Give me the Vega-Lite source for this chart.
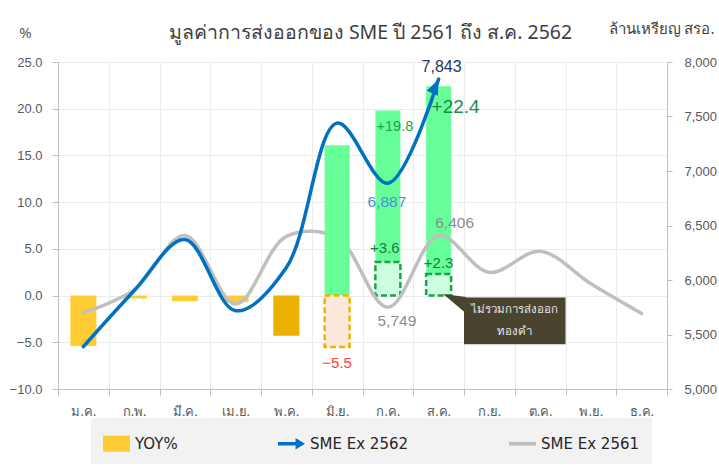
{
  "$schema": "https://vega.github.io/schema/vega-lite/v6.json",
  "width": 609,
  "height": 327,
  "autosize": {"type": "none"},
  "padding": {"left": 58, "top": 62, "right": 52, "bottom": 76},
  "background": "white",
  "config": {
    "view": {"stroke": null},
    "font": "Liberation Sans",
    "axis": {"labelFont": "Liberation Sans", "titleFont": "Tahoma, Noto Sans, DejaVu Sans, sans-serif"}
  },
  "title": {
    "text": "มูลค่าการส่งออกของ SME ปี 2561 ถึง ส.ค. 2562",
    "font": "Tahoma, Noto Sans, DejaVu Sans, sans-serif",
    "fontSize": 19.5,
    "fontWeight": "normal",
    "color": "#404040",
    "anchor": "middle",
    "dx": 8,
    "dy": 38,
    "offset": 16
  },
  "datasets": {
    "yoy": [
      {"month": "ม.ค.", "yoy": -5.4, "series": "YOY%"},
      {"month": "ก.พ.", "yoy": -0.3, "series": "YOY%"},
      {"month": "มี.ค.", "yoy": -0.6, "series": "YOY%"},
      {"month": "เม.ย.", "yoy": -0.7, "series": "YOY%"},
      {"month": "พ.ค.", "yoy": -4.3, "series": "YOY%"},
      {"month": "มิ.ย.", "yoy": 16.1, "series": "YOY%"},
      {"month": "ก.ค.", "yoy": 19.8, "series": "YOY%"},
      {"month": "ส.ค.", "yoy": 22.4, "series": "YOY%"}
    ],
    "nogold": [
      {"month": "มิ.ย.", "yoy": -5.5},
      {"month": "ก.ค.", "yoy": 3.6},
      {"month": "ส.ค.", "yoy": 2.3}
    ],
    "export": [
      {"month": "ม.ค.", "value": 5389, "series": "SME Ex 2562"},
      {"month": "ก.พ.", "value": 5902, "series": "SME Ex 2562"},
      {"month": "มี.ค.", "value": 6371, "series": "SME Ex 2562"},
      {"month": "เม.ย.", "value": 5718, "series": "SME Ex 2562"},
      {"month": "พ.ค.", "value": 6114, "series": "SME Ex 2562"},
      {"month": "มิ.ย.", "value": 7439, "series": "SME Ex 2562"},
      {"month": "ก.ค.", "value": 6887, "series": "SME Ex 2562"},
      {"month": "ส.ค.", "value": 7843, "series": "SME Ex 2562"},
      {"month": "ม.ค.", "value": 5700, "series": "SME Ex 2561"},
      {"month": "ก.พ.", "value": 5910, "series": "SME Ex 2561"},
      {"month": "มี.ค.", "value": 6408, "series": "SME Ex 2561"},
      {"month": "เม.ย.", "value": 5780, "series": "SME Ex 2561"},
      {"month": "พ.ค.", "value": 6400, "series": "SME Ex 2561"},
      {"month": "มิ.ย.", "value": 6390, "series": "SME Ex 2561"},
      {"month": "ก.ค.", "value": 5749, "series": "SME Ex 2561"},
      {"month": "ส.ค.", "value": 6406, "series": "SME Ex 2561"},
      {"month": "ก.ย.", "value": 6070, "series": "SME Ex 2561"},
      {"month": "ต.ค.", "value": 6264, "series": "SME Ex 2561"},
      {"month": "พ.ย.", "value": 5966, "series": "SME Ex 2561"},
      {"month": "ธ.ค.", "value": 5693, "series": "SME Ex 2561"}
    ],
    "note": [
      {"month": "ก.ย.", "month2": "พ.ย.", "yoy": -0.2, "yoy2": -5.2, "text": ["ไม่รวมการส่งออก", "ทองคำ"]}
    ]
  },
  "layer": [
    {
      "data": {"name": "yoy"},
      "transform": [{"filter": {"field": "month", "oneOf": ["ม.ค.", "ก.พ.", "มี.ค.", "เม.ย."]}}],
      "mark": {"type": "bar", "width": 26},
      "encoding": {
        "x": {
          "field": "month", "type": "ordinal", "title": null,
          "scale": {"domain": ["ม.ค.", "ก.พ.", "มี.ค.", "เม.ย.", "พ.ค.", "มิ.ย.", "ก.ค.", "ส.ค.", "ก.ย.", "ต.ค.", "พ.ย.", "ธ.ค."], "paddingInner": 0, "paddingOuter": 0},
          "axis": {"orient": "bottom", "tickBand": "extent", "grid": true, "gridColor": "#EBEBEB", "ticks": true, "tickSize": 6, "tickColor": "#BFBFBF", "domainColor": "#BFBFBF", "labelPadding": 10, "labelFontSize": 13, "labelColor": "#595959", "labelAngle": 0, "labelFont": "Tahoma, Noto Sans, DejaVu Sans, sans-serif"}
        },
        "y": {
          "field": "yoy", "type": "quantitative",
          "scale": {"domain": [-10, 25], "nice": false, "zero": true},
          "axis": {"orient": "left", "values": [-10, -5, 0, 5, 10, 15, 20, 25], "format": ".1f", "labelFontSize": 13, "labelColor": "#595959", "labelPadding": 10, "tickSize": 6, "tickColor": "#BFBFBF", "domainColor": "#BFBFBF", "grid": true, "gridColor": "#EBEBEB", "title": "%", "titleAngle": 0, "titleX": -33, "titleY": -30, "titleAlign": "center", "titleBaseline": "middle", "titleFontSize": 15, "titleFontWeight": "normal", "titleColor": "#595959"}
        },
        "y2": {"datum": 0},
        "color": {
          "field": "series", "type": "nominal",
          "scale": {"domain": ["YOY%", "SME Ex 2562", "SME Ex 2561"], "range": ["#FFCC33", "#0070C0", "#BFBFBF"]},
          "legend": {
            "orient": "none", "legendX": 33, "legendY": 356, "direction": "horizontal", "title": null,
            "columnPadding": 100, "padding": 12, "fillColor": "#F2F2F2",
            "labelFontSize": 15, "labelColor": "#262626", "labelFont": "DejaVu Sans", "labelOffset": 5,
            "symbolSize": 729,
            "encode": {
              "symbols": {
                "update": {
                  "shape": {"signal": "datum.value === 'YOY%' ? 'M-1,-0.6H1V0.6H-1Z' : datum.value === 'SME Ex 2562' ? 'M-1,-0.13H0.3V-0.42L1,0L0.3,0.42V0.13H-1Z' : 'M-1,-0.14H1V0.14H-1Z'"},
                  "fill": {"signal": "scale('color', datum.value)"},
                  "stroke": {"value": "transparent"},
                  "strokeWidth": {"value": 0},
                  "opacity": {"value": 1},
                  "fillOpacity": {"value": 1}
                }
              }
            }
          }
        }
      }
    },
    {
      "data": {"name": "yoy"},
      "transform": [{"filter": {"field": "month", "equal": "พ.ค."}}],
      "mark": {"type": "bar", "width": 26, "color": "#EBB000"},
      "encoding": {
        "x": {"field": "month", "type": "ordinal", "title": null},
        "y": {"field": "yoy", "type": "quantitative", "scale": {"domain": [-10, 25], "nice": false, "zero": true}, "axis": null},
        "y2": {"datum": 0}
      }
    },
    {
      "data": {"name": "yoy"},
      "transform": [{"filter": {"field": "month", "oneOf": ["ก.ค.", "ส.ค."]}}],
      "mark": {"type": "bar", "width": 25, "color": "#66FF99"},
      "encoding": {
        "x": {"field": "month", "type": "ordinal", "title": null},
        "y": {"field": "yoy", "type": "quantitative", "scale": {"domain": [-10, 25], "nice": false, "zero": true}, "axis": null},
        "y2": {"datum": 0}
      }
    },
    {
      "data": {"name": "nogold"},
      "transform": [{"filter": {"field": "month", "oneOf": ["ก.ค.", "ส.ค."]}}],
      "mark": {"type": "bar", "width": 25, "fill": "#CCFFE0", "stroke": "#1AA34A", "strokeWidth": 2.5, "strokeDash": [6, 3]},
      "encoding": {
        "x": {"field": "month", "type": "ordinal", "title": null},
        "y": {"field": "yoy", "type": "quantitative", "scale": {"domain": [-10, 25], "nice": false, "zero": true}, "axis": null},
        "y2": {"datum": 0}
      }
    },
    {
      "data": {"name": "export"},
      "transform": [{"filter": {"field": "series", "equal": "SME Ex 2561"}}],
      "mark": {"type": "line", "interpolate": "catmull-rom", "strokeWidth": 3.5, "strokeCap": "round"},
      "encoding": {
        "x": {"field": "month", "type": "ordinal", "title": null},
        "y": {
          "field": "value", "type": "quantitative",
          "scale": {"domain": [5000, 8000], "nice": false, "zero": false},
          "axis": {"orient": "right", "values": [5000, 5500, 6000, 6500, 7000, 7500, 8000], "format": ",.0f", "labelFontSize": 13, "labelColor": "#595959", "labelPadding": 12, "tickSize": 5, "tickColor": "#BFBFBF", "domainColor": "#BFBFBF", "grid": false, "title": "ล้านเหรียญ สรอ.", "titleAngle": 0, "titleX": -59, "titleY": -34, "titleAlign": "left", "titleBaseline": "middle", "titleFontSize": 15, "titleFontWeight": "normal", "titleColor": "#404040"}
        },
        "color": {"field": "series", "type": "nominal", "scale": {"domain": ["YOY%", "SME Ex 2562", "SME Ex 2561"], "range": ["#FFCC33", "#0070C0", "#BFBFBF"]}}
      }
    },
    {
      "data": {"name": "yoy"},
      "transform": [{"filter": {"field": "month", "equal": "มิ.ย."}}],
      "mark": {"type": "bar", "width": 25, "color": "#66FF99"},
      "encoding": {
        "x": {"field": "month", "type": "ordinal", "title": null},
        "y": {"field": "yoy", "type": "quantitative", "scale": {"domain": [-10, 25], "nice": false, "zero": true}, "axis": null},
        "y2": {"datum": 0}
      }
    },
    {
      "data": {"name": "nogold"},
      "transform": [{"filter": {"field": "month", "equal": "มิ.ย."}}],
      "mark": {"type": "bar", "width": 25, "fill": "#FCE9DC", "stroke": "#F2B300", "strokeWidth": 2.5, "strokeDash": [6, 3]},
      "encoding": {
        "x": {"field": "month", "type": "ordinal", "title": null},
        "y": {"field": "yoy", "type": "quantitative", "scale": {"domain": [-10, 25], "nice": false, "zero": true}, "axis": null},
        "y2": {"datum": 0}
      }
    },
    {
      "data": {"name": "export"},
      "transform": [{"filter": {"field": "series", "equal": "SME Ex 2562"}}],
      "mark": {"type": "line", "interpolate": "catmull-rom", "strokeWidth": 3.5, "strokeCap": "round"},
      "encoding": {
        "x": {"field": "month", "type": "ordinal", "title": null},
        "y": {"field": "value", "type": "quantitative", "scale": {"domain": [5000, 8000], "nice": false, "zero": false}, "axis": null},
        "color": {"field": "series", "type": "nominal", "scale": {"domain": ["YOY%", "SME Ex 2562", "SME Ex 2561"], "range": ["#FFCC33", "#0070C0", "#BFBFBF"]}}
      }
    },
    {
      "data": {"name": "export"},
      "transform": [{"filter": "datum.series === 'SME Ex 2562' && datum.month === 'ส.ค.'"}],
      "mark": {"type": "point", "shape": "M0,0L0.55,1.4L-0.55,1.4Z", "size": 484, "angle": 24, "filled": true, "color": "#0070C0", "opacity": 1},
      "encoding": {
        "x": {"field": "month", "type": "ordinal", "title": null},
        "y": {"field": "value", "type": "quantitative", "scale": {"domain": [5000, 8000], "nice": false, "zero": false}, "axis": null}
      }
    },
    {
      "data": {"name": "note"},
      "mark": {"type": "rect", "color": "#4A4330"},
      "encoding": {
        "x": {"field": "month", "type": "ordinal", "title": null, "bandPosition": 0},
        "x2": {"field": "month2", "bandPosition": 0},
        "y": {"field": "yoy", "type": "quantitative", "scale": {"domain": [-10, 25], "nice": false, "zero": true}, "axis": null},
        "y2": {"field": "yoy2"}
      }
    },
    {
      "data": {"name": "nogold"},
      "transform": [{"filter": {"field": "month", "equal": "ส.ค."}}],
      "mark": {"type": "point", "shape": "M0.15,-0.05L0.92,0.05L0.92,0.6Z", "size": 3600, "filled": true, "color": "#4A4330", "opacity": 1},
      "encoding": {
        "x": {"field": "month", "type": "ordinal", "title": null},
        "y": {"datum": 0, "type": "quantitative", "scale": {"domain": [-10, 25], "nice": false, "zero": true}, "axis": null}
      }
    },
    {
      "data": {"name": "note"},
      "mark": {"type": "text", "font": "Tahoma, Noto Sans, DejaVu Sans, sans-serif", "fontSize": 11.5, "color": "#E6E6E6", "align": "center", "baseline": "middle", "lineHeight": 22, "dy": -11},
      "encoding": {
        "x": {"field": "month", "type": "ordinal", "title": null, "bandPosition": 1},
        "y": {"datum": -2.7, "type": "quantitative", "scale": {"domain": [-10, 25], "nice": false, "zero": true}, "axis": null},
        "text": {"field": "text"}
      }
    },
    {
      "data": {"name": "export"},
      "transform": [{"filter": "datum.series === 'SME Ex 2562' && datum.month === 'ส.ค.'"}],
      "mark": {"type": "text", "fontSize": 16, "color": "#1F3864", "dx": 3, "dy": -12},
      "encoding": {
        "x": {"field": "month", "type": "ordinal", "title": null},
        "y": {"field": "value", "type": "quantitative", "scale": {"domain": [5000, 8000], "nice": false, "zero": false}, "axis": null},
        "text": {"field": "value", "type": "quantitative", "format": ","}
      }
    },
    {
      "data": {"name": "export"},
      "transform": [{"filter": "datum.series === 'SME Ex 2562' && datum.month === 'ก.ค.'"}],
      "mark": {"type": "text", "fontSize": 15.5, "color": "#4A8FD8", "dx": -1, "dy": 19},
      "encoding": {
        "x": {"field": "month", "type": "ordinal", "title": null},
        "y": {"field": "value", "type": "quantitative", "scale": {"domain": [5000, 8000], "nice": false, "zero": false}, "axis": null},
        "text": {"field": "value", "type": "quantitative", "format": ","}
      }
    },
    {
      "data": {"name": "export"},
      "transform": [{"filter": "datum.series === 'SME Ex 2561' && datum.month === 'ส.ค.'"}],
      "mark": {"type": "text", "fontSize": 15.5, "color": "#8C8C8C", "dx": 16, "dy": -13},
      "encoding": {
        "x": {"field": "month", "type": "ordinal", "title": null},
        "y": {"field": "value", "type": "quantitative", "scale": {"domain": [5000, 8000], "nice": false, "zero": false}, "axis": null},
        "text": {"field": "value", "type": "quantitative", "format": ","}
      }
    },
    {
      "data": {"name": "export"},
      "transform": [{"filter": "datum.series === 'SME Ex 2561' && datum.month === 'ก.ค.'"}],
      "mark": {"type": "text", "fontSize": 15.5, "color": "#8C8C8C", "dx": 9, "dy": 14},
      "encoding": {
        "x": {"field": "month", "type": "ordinal", "title": null},
        "y": {"field": "value", "type": "quantitative", "scale": {"domain": [5000, 8000], "nice": false, "zero": false}, "axis": null},
        "text": {"field": "value", "type": "quantitative", "format": ","}
      }
    },
    {
      "data": {"name": "yoy"},
      "transform": [{"filter": {"field": "month", "equal": "ส.ค."}}],
      "mark": {"type": "text", "fontSize": 19, "color": "#1E8C45", "dx": 17, "dy": 21},
      "encoding": {
        "x": {"field": "month", "type": "ordinal", "title": null},
        "y": {"field": "yoy", "type": "quantitative", "scale": {"domain": [-10, 25], "nice": false, "zero": true}, "axis": null},
        "text": {"field": "yoy", "type": "quantitative", "format": "+.1f"}
      }
    },
    {
      "data": {"name": "yoy"},
      "transform": [{"filter": {"field": "month", "equal": "ก.ค."}}],
      "mark": {"type": "text", "fontSize": 14.5, "color": "#1AA34A", "dx": 7, "dy": 16},
      "encoding": {
        "x": {"field": "month", "type": "ordinal", "title": null},
        "y": {"field": "yoy", "type": "quantitative", "scale": {"domain": [-10, 25], "nice": false, "zero": true}, "axis": null},
        "text": {"field": "yoy", "type": "quantitative", "format": "+.1f"}
      }
    },
    {
      "data": {"name": "nogold"},
      "transform": [{"filter": {"field": "month", "equal": "ก.ค."}}],
      "mark": {"type": "text", "fontSize": 15, "color": "#1F7A3D", "dx": -3, "dy": -14},
      "encoding": {
        "x": {"field": "month", "type": "ordinal", "title": null},
        "y": {"field": "yoy", "type": "quantitative", "scale": {"domain": [-10, 25], "nice": false, "zero": true}, "axis": null},
        "text": {"field": "yoy", "type": "quantitative", "format": "+.1f"}
      }
    },
    {
      "data": {"name": "nogold"},
      "transform": [{"filter": {"field": "month", "equal": "ส.ค."}}],
      "mark": {"type": "text", "fontSize": 15, "color": "#1F7A3D", "dx": 0, "dy": -11},
      "encoding": {
        "x": {"field": "month", "type": "ordinal", "title": null},
        "y": {"field": "yoy", "type": "quantitative", "scale": {"domain": [-10, 25], "nice": false, "zero": true}, "axis": null},
        "text": {"field": "yoy", "type": "quantitative", "format": "+.1f"}
      }
    },
    {
      "data": {"name": "nogold"},
      "transform": [{"filter": {"field": "month", "equal": "มิ.ย."}}],
      "mark": {"type": "text", "fontSize": 15, "color": "#FF3B3B", "dx": 0, "dy": 16},
      "encoding": {
        "x": {"field": "month", "type": "ordinal", "title": null},
        "y": {"field": "yoy", "type": "quantitative", "scale": {"domain": [-10, 25], "nice": false, "zero": true}, "axis": null},
        "text": {"field": "yoy", "type": "quantitative", "format": ".1f"}
      }
    }
  ],
  "resolve": {"scale": {"y": "independent"}}
}
